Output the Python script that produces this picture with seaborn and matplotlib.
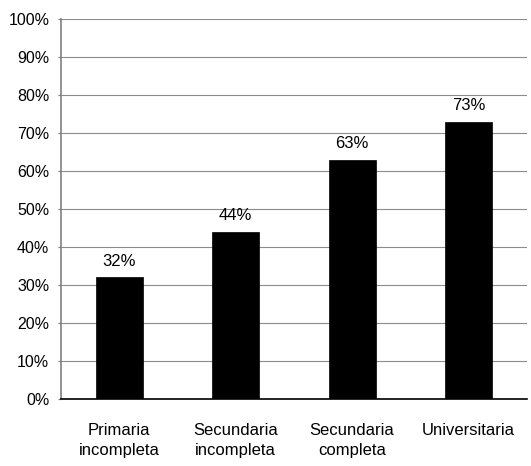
import matplotlib
matplotlib.use("Agg")
import matplotlib.pyplot as plt
import pandas as pd
import seaborn as sns
from matplotlib.ticker import PercentFormatter

categorias = ["Primaria\nincompleta", "Secundaria\nincompleta", "Secundaria\ncompleta", "Universitaria"]
valores = [32, 44, 63, 73]
etiquetas = ["32%", "44%", "63%", "73%"]

df = pd.DataFrame({"categoria": categorias, "valor": valores})

sns.set_style("white")
plt.rcParams["font.family"] = ["Liberation Sans", "DejaVu Sans"]
plt.rcParams["text.color"] = "black"
plt.rcParams["xtick.color"] = "black"
plt.rcParams["ytick.color"] = "black"

fig = plt.figure(figsize=(5.31, 4.66), dpi=100)
ax = fig.add_axes([0.115, 0.144, 0.877, 0.815])

sns.barplot(data=df, x="categoria", y="valor", color="black", width=0.405,
            saturation=1, edgecolor="black", linewidth=0.5, ax=ax, zorder=3)

for i, v in enumerate(valores):
    ax.text(i, v + 2.2, etiquetas[i], ha="center", va="bottom", fontsize=12, color="black")

ax.set_ylim(0, 100)
ax.set_xlim(-0.5, 3.5)
ax.set_yticks(range(0, 101, 10))
ax.yaxis.set_major_formatter(PercentFormatter(decimals=0))
ax.yaxis.grid(True, color="#8c8c8c", linewidth=0.8, zorder=0)
ax.set_axisbelow(True)

# category separator ticks on the x axis
ax.set_xticks([0, 1, 2, 3])
ax.set_xticks([0.5, 1.5, 2.5], minor=True)
ax.tick_params(axis="x", which="major", length=0, pad=17, labelsize=12)
ax.tick_params(axis="x", which="minor", length=4, color="#808080", width=0.9)
ax.tick_params(axis="y", length=2.5, color="#808080", width=0.9, labelsize=11.5, pad=6, left=True)
for lbl in ax.get_xticklabels():
    lbl.set_linespacing(1.45)
ax.set_xlabel("")
ax.set_ylabel("")

for s in ["top", "right"]:
    ax.spines[s].set_visible(False)
ax.spines["left"].set_color("#808080")
ax.spines["bottom"].set_color("black")
ax.spines["left"].set_linewidth(1.2)
ax.spines["bottom"].set_linewidth(1.2)

fig.savefig("out.png", dpi=100)
